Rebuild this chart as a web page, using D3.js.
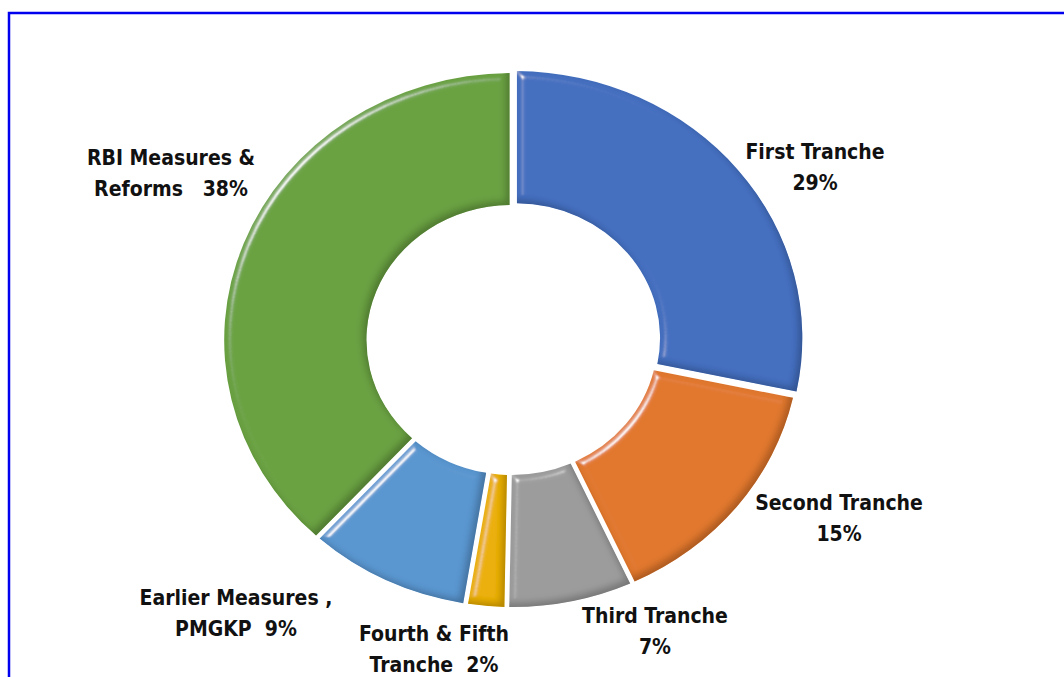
<!DOCTYPE html>
<html><head><meta charset="utf-8">
<script src="https://cdn.jsdelivr.net/npm/d3@7"></script>
<style>
html,body{margin:0;padding:0;background:#fff;}
svg{display:block;}
text{font-family:"Liberation Sans Narrow","Arial Narrow","DejaVu Sans Condensed",sans-serif;font-weight:bold;fill:#111;white-space:pre;}
</style></head>
<body>
<svg id="chart" width="1064" height="677"></svg>
<script>
// ---- data (Rs lakh crore) ----
const categories = ["First Tranche","Second Tranche","Third Tranche","Fourth & Fifth Tranche","Earlier Measures , PMGKP","RBI Measures & Reforms"];
const values = [5.94, 3.10, 1.50, 0.48, 1.93, 8.01];
const labelLines = [
  ["First Tranche","29%"],
  ["Second Tranche","15%"],
  ["Third Tranche","7%"],
  ["Fourth & Fifth","Tranche  2%"],
  ["Earlier Measures ,","PMGKP  9%"],
  ["RBI Measures &","Reforms   38%"]
];
const colors = ["#4470C0","#E2782F","#9C9C9C","#EBB000","#5A96D0","#6AA243"];

// ---- layout ----
const cx = 512, cy = 340, sx = 1.078;
const outerR = 267, innerR = 135;
const explode = [3,0,0,0,0,0];
const labelPos = [[815,152],[839,503],[655,616],[434,634],[236,598],[171,158]];
const lineGap = 31;

const svg = d3.select("#chart");
const defs = svg.append("defs");
const f = defs.append("filter").attr("id","bevel").attr("x","-10%").attr("y","-10%").attr("width","120%").attr("height","120%");
f.append("feGaussianBlur").attr("in","SourceAlpha").attr("stdDeviation",3.5).attr("result","blur");
f.append("feSpecularLighting").attr("in","blur").attr("surfaceScale",7).attr("specularConstant",0.85)
  .attr("specularExponent",28).attr("lighting-color","#ffffff").attr("result","spec")
  .append("feDistantLight").attr("azimuth",225).attr("elevation",22);
f.append("feComposite").attr("in","spec").attr("in2","SourceAlpha").attr("operator","in").attr("result","specIn");
f.append("feOffset").attr("in","blur").attr("dx",-4).attr("dy",-4).attr("result","off");
f.append("feComposite").attr("in","SourceAlpha").attr("in2","off").attr("operator","arithmetic")
  .attr("k2",1).attr("k3",-1).attr("result","shadeEdge");
f.append("feColorMatrix").attr("in","shadeEdge").attr("type","matrix")
  .attr("values","0 0 0 0 0  0 0 0 0 0  0 0 0 0 0  0 0 0 0.45 0").attr("result","dark");
const m = f.append("feMerge");
m.append("feMergeNode").attr("in","SourceGraphic");
m.append("feMergeNode").attr("in","dark");
m.append("feMergeNode").attr("in","specIn");

// frame
svg.append("rect").attr("x",9).attr("y",13).attr("width",1080).attr("height",700)
  .attr("fill","none").attr("stroke","#0000EE").attr("stroke-width",2.5);

const pie = d3.pie().sort(null).value(d => d);
const arcs = pie(values);
const arc = d3.arc().innerRadius(innerR).outerRadius(outerR).padAngle(0.015);

const g = svg.append("g").attr("transform",`translate(${cx},${cy}) scale(${sx},1)`);
g.selectAll("path").data(arcs).join("path")
  .attr("d", arc)
  .attr("transform",(d,i)=>{
    const a = (d.startAngle+d.endAngle)/2;
    return `translate(${Math.sin(a)*explode[i]},${-Math.cos(a)*explode[i]})`;
  })
  .attr("fill",(d,i)=>colors[i])
  .attr("filter","url(#bevel)");

// labels
const lg = svg.append("g");
labelLines.forEach((lines,i)=>{
  const t = lg.append("text").attr("text-anchor","middle").attr("font-size",21);
  lines.forEach((s,j)=>{
    t.append("tspan").attr("x",labelPos[i][0]).attr("y",labelPos[i][1]+7+j*lineGap).text(s);
  });
});
</script>
</body></html>
